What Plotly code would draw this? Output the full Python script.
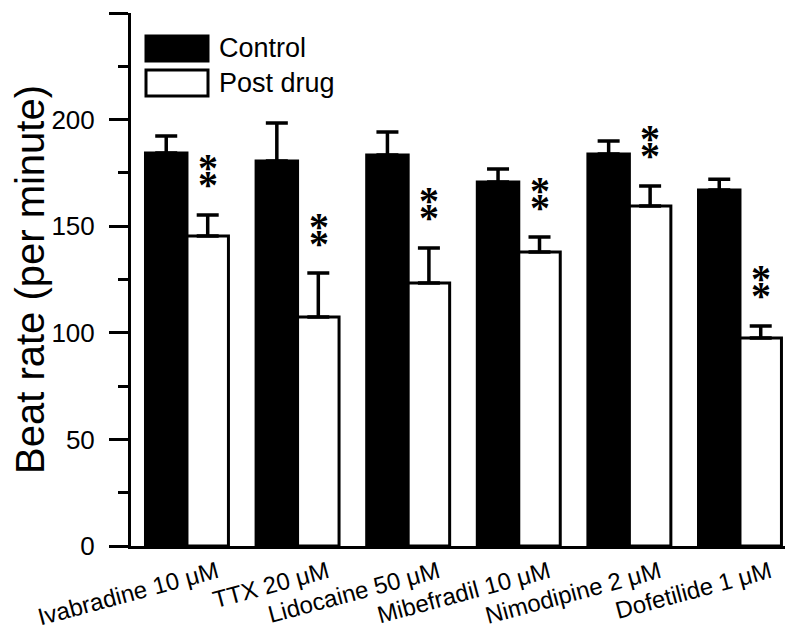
import plotly.graph_objects as go

drugs = ["Ivabradine 10 μM", "TTX 20 μM", "Lidocaine 50 μM",
         "Mibefradil 10 μM", "Nimodipine 2 μM", "Dofetilide 1 μM"]
control_mean = [184.3, 180.6, 183.4, 170.7, 183.9, 167.0]
control_err = [8.0, 17.8, 10.8, 6.1, 6.1, 5.0]
post_mean = [145.4, 107.4, 123.4, 137.9, 159.5, 97.6]
post_err = [9.9, 20.6, 16.4, 7.0, 9.4, 5.6]
significant = [True, True, True, True, True, True]

FONT = "Liberation Sans, Arial, sans-serif"
STAR_FONT = "Liberation Serif, Times New Roman, serif"
W, H = 795, 632
OFF = 8  # page body margin that shifts the figure in the browser
L, R, T, B = 131, 10, 13, 86  # wanted plot-area edges on screen
PW, PH = W - L - R, H - T - B
Y_MAX = 250


def px_x(p):
    return (p - L) / PW


def px_y(p):
    return (H - B - p) / PH


fig = go.Figure()
fig.add_trace(go.Bar(
    x=list(range(len(drugs))), y=control_mean, name="Control",
    marker=dict(color="black", line=dict(color="black", width=3)),
    error_y=dict(type="data", array=control_err, arrayminus=[0] * len(drugs),
                 symmetric=False, color="black", thickness=3.5, width=11),
))
fig.add_trace(go.Bar(
    x=list(range(len(drugs))), y=post_mean, name="Post drug",
    marker=dict(color="white", line=dict(color="black", width=3)),
    error_y=dict(type="data", array=post_err, arrayminus=[0] * len(drugs),
                 symmetric=False, color="black", thickness=3.5, width=11),
))

# two stacked asterisks above each significant post-drug bar
for i, sig in enumerate(significant):
    if not sig:
        continue
    for shift in (34, 51):
        fig.add_annotation(
            x=i + 0.19, y=post_mean[i] + post_err[i], xref="x", yref="y",
            text="<b>*</b>", showarrow=False, yanchor="middle",
            yshift=shift - 4,
            font=dict(family=STAR_FONT, size=40, color="black"),
        )

# hand-drawn legend
fig.add_shape(type="rect", xref="paper", yref="paper",
              x0=px_x(146), x1=px_x(208), y0=px_y(61), y1=px_y(36),
              fillcolor="black", line=dict(color="black", width=3))
fig.add_shape(type="rect", xref="paper", yref="paper",
              x0=px_x(146), x1=px_x(208), y0=px_y(96), y1=px_y(70),
              fillcolor="white", line=dict(color="black", width=3))
for label, yc in (("Control", 48.5), ("Post drug", 83)):
    fig.add_annotation(x=px_x(217), y=px_y(yc), xref="paper", yref="paper",
                       text=label, showarrow=False, xanchor="left",
                       yanchor="middle",
                       font=dict(family=FONT, size=27, color="black"))

fig.update_xaxes(
    range=[-0.506, 5.407], tickmode="array",
    tickvals=list(range(len(drugs))), ticktext=drugs, tickangle=-15,
    ticks="", showline=True, linewidth=3, linecolor="black",
    showgrid=False, zeroline=False, ticklabelshift=30, automargin=False,
    tickfont=dict(family=FONT, size=24, color="black"),
)
fig.update_yaxes(
    range=[0, Y_MAX], dtick=50, ticks="outside", ticklen=19, tickwidth=3,
    tickcolor="black", showline=True, linewidth=3, linecolor="black",
    showgrid=False, zeroline=False, automargin=False, ticklabelstandoff=9,
    minor=dict(dtick=25, ticks="outside", ticklen=10, tickwidth=3,
               tickcolor="black", showgrid=False),
    tickfont=dict(family=FONT, size=26, color="black"),
    title=dict(text="Beat rate (per minute)", standoff=27,
               font=dict(family=FONT, size=40, color="black")),
)
fig.update_layout(
    width=W, height=H, barmode="group", bargap=0.25, bargroupgap=0,
    margin=dict(l=L - OFF, r=R + OFF, t=T - OFF, b=B + OFF),
    showlegend=False, plot_bgcolor="white", paper_bgcolor="white",
)

fig.write_html("out.html")
